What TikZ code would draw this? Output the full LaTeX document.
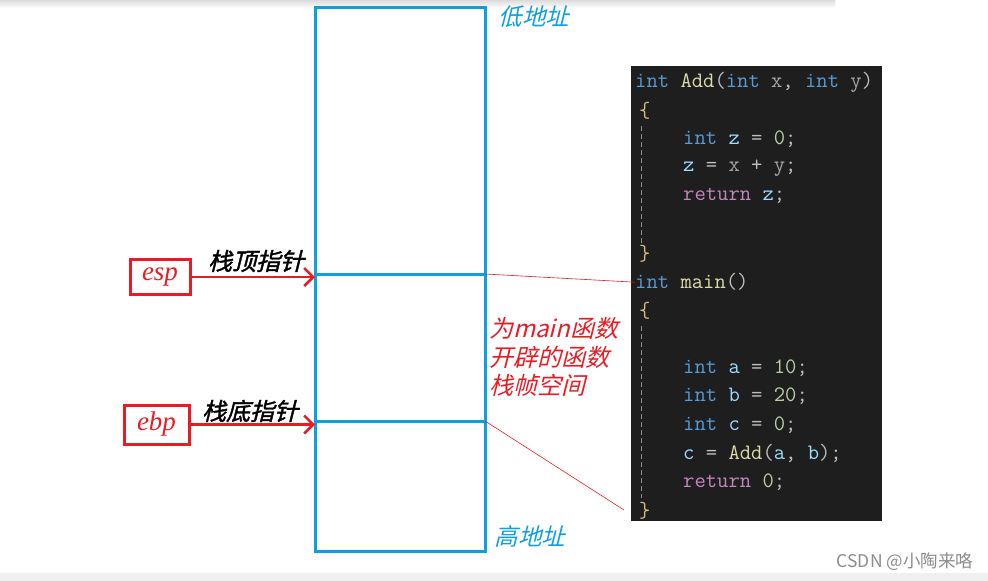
\documentclass[tikz,border=0pt]{standalone}
\usepackage{fontspec}
\newfontfamily\cjk{Noto Sans CJK SC}
\newfontfamily\cjkslant[FakeSlant=0.25]{Noto Sans CJK SC}
\newfontfamily\cjkbold[FakeSlant=0.25,FakeBold=1.5]{Noto Sans CJK SC}
\newfontfamily\regfont{Liberation Serif}
\usepackage{xcolor}
\usepackage{tikz}
\usetikzlibrary{arrows.meta, positioning}

\definecolor{stackblue}{RGB}{14,160,222}
\definecolor{markred}{RGB}{232,28,36}
\definecolor{codebg}{RGB}{30,30,30}
\definecolor{kwblue}{RGB}{86,156,214}
\definecolor{fnyellow}{RGB}{220,220,170}
\definecolor{varblue}{RGB}{156,220,254}
\definecolor{numgreen}{RGB}{181,206,168}
\definecolor{retpink}{RGB}{197,134,192}
\definecolor{opgray}{RGB}{190,190,190}
\definecolor{bracegold}{RGB}{215,186,125}
\definecolor{paramgray}{RGB}{165,165,165}

\newcommand{\ckw}[1]{\textcolor{kwblue}{#1}}
\newcommand{\cfn}[1]{\textcolor{fnyellow}{#1}}
\newcommand{\cvar}[1]{\textcolor{varblue}{#1}}
\newcommand{\cnum}[1]{\textcolor{numgreen}{#1}}
\newcommand{\cret}[1]{\textcolor{retpink}{#1}}
\newcommand{\cop}[1]{\textcolor{opgray}{#1}}
\newcommand{\cbr}[1]{\textcolor{bracegold}{#1}}
\newcommand{\cpar}[1]{\textcolor{paramgray}{#1}}

\tikzset{
  stackcell/.style={draw=stackblue, line width=3pt, minimum width=170pt, outer sep=0pt, inner sep=0pt},
  regbox/.style={draw=markred, line width=3pt, inner sep=0pt, font=\regfont\itshape\fontsize{27}{30}\selectfont, text=markred},
  ptrlabel/.style={font=\cjkbold\fontsize{24}{28}\selectfont, text=black, inner sep=0pt},
  addrlabel/.style={font=\cjkslant\fontsize{23.5}{28}\selectfont, text=stackblue, inner sep=0pt},
  codeline/.style={anchor=west, inner sep=0pt, font=\fontsize{22}{26}\ttfamily, text=opgray},
  ptrarrow/.style={draw=markred, line width=2.5pt, -{Straight Barb[length=9pt, width=18pt, line width=2.5pt]}},
}

\begin{document}
\begin{tikzpicture}[x=1pt, y=-1pt]
    \useasboundingbox (0,0) rectangle (988,581);
    % page shadow and bottom strip
    \shade[top color=black!14, bottom color=white] (0,0) rectangle (835,8);
    \fill[black!6] (0,573) rectangle (988,581);

    % stack
    \node[stackcell, minimum height=267pt, anchor=north west] (low) at (315,7) {};
    \node[stackcell, minimum height=147pt, below=0pt of low] (frame) {};
    \node[stackcell, minimum height=130pt, below=0pt of frame] (high) {};
    \node[addrlabel] (lowaddr) at (534,17) {低地址};
    \node[addrlabel] (highaddr) at (530,537) {高地址};
    \node[anchor=west, align=left, inner sep=0pt, text=markred,
          font=\cjkslant\fontsize{24}{28.5}\selectfont] (framelabel) at (489,357)
          {为main函数\\开辟的函数\\栈帧空间};

    % registers
    \node[regbox, minimum width=60pt, minimum height=35pt] (esp) at (160,277) {esp};
    \node[regbox, minimum width=65pt, minimum height=39pt] (ebp) at (156.5,424.5) {ebp};
    \node[ptrlabel] (esptext) at (256,261) {栈顶指针};
    \node[ptrlabel] (ebptext) at (250,411) {栈底指针};
    \draw[ptrarrow] (esp.east) -- (esp.east -| frame.west);
    \draw[ptrarrow] (ebp.east) -- (ebp.east -| frame.west);

    % code panel
    \node[fill=codebg, minimum width=251pt, minimum height=455pt, anchor=north west, inner sep=0pt] (code) at (631,66) {};
    \foreach \k/\xx/\txt in {
        0/635/{\ckw{int} \cfn{Add}\cop{(}\ckw{int} \cpar{x}\cop{,} \ckw{int} \cpar{y}\cop{)}},
        1/639/{\cbr{\{}},
        2/683/{\ckw{int} \cvar{z} \cop{=} \cnum{0}\cop{;}},
        3/683/{\cvar{z} \cop{=} \cpar{x} \cop{+} \cpar{y}\cop{;}},
        4/683/{\cret{return} \cvar{z}\cop{;}},
        6/639/{\cbr{\}}},
        7/635/{\ckw{int} \cfn{main}\cop{()}},
        8/639/{\cbr{\{}},
        10/683/{\ckw{int} \cvar{a} \cop{=} \cnum{10}\cop{;}},
        11/683/{\ckw{int} \cvar{b} \cop{=} \cnum{20}\cop{;}},
        12/683/{\ckw{int} \cvar{c} \cop{=} \cnum{0}\cop{;}},
        13/683/{\cvar{c} \cop{=} \cfn{Add}\cop{(}\cvar{a}\cop{,} \cvar{b}\cop{);}},
        14/683/{\cret{return} \cnum{0}\cop{;}},
        15/639/{\cbr{\}}}} {
        \node[codeline] (l\k) at (\xx, 82+28.6*\k) {\txt};
    }
    % indent guides
    \draw[black!45, line width=1pt, dash pattern=on 5pt off 3pt] (641,126) -- (641,243);
    \draw[black!45, line width=1pt, dash pattern=on 5pt off 3pt] (641,326) -- (641,498);

    % links from the frame to main
    \coordinate (mainend) at (624,510);
    \draw[markred, line width=0.6pt] (frame.north east) -- (l7.west);
    \draw[markred, line width=0.6pt] (frame.south east) -- (mainend);

    % watermark
    \node[font=\cjk\fontsize{17.5}{20}\selectfont, text=black!45, inner sep=0pt] (mark) at (905,562) {CSDN @小陶来咯};
\end{tikzpicture}
\end{document}
